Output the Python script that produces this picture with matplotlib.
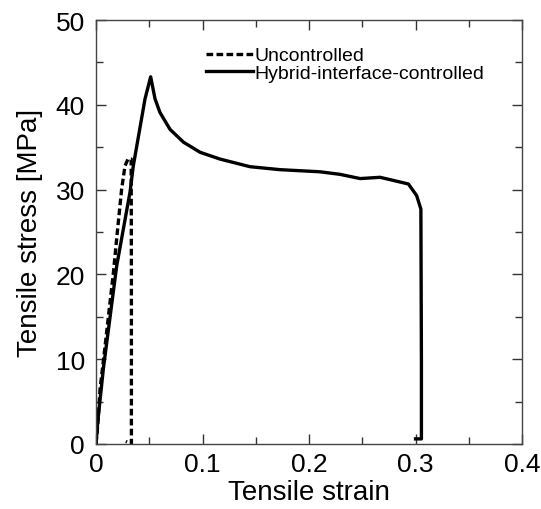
#!/usr/bin/env python3
"""
Tensile stress-strain curves, uncontrolled vs hybrid-interface-controlled
"""

import matplotlib
matplotlib.use("Agg")
import matplotlib.pyplot as plt
from matplotlib.ticker import MultipleLocator

# uncontrolled (dashed)
unc_strain = [0.0, 0.0015, 0.0038, 0.008, 0.0163, 0.020, 0.024, 0.0272, 0.030, 0.033,
              0.0332, 0.0332, 0.028]
unc_stress = [0.0, 2.0, 6.5, 11.0, 20.2, 25.0, 30.0, 32.8, 33.6, 33.6,
              20.0, 0.0, 0.3]

# hybrid-interface-controlled (solid)
hyb_strain = [0.0, 0.0015, 0.007, 0.0194, 0.0319, 0.035, 0.046, 0.0513, 0.0554,
              0.060, 0.0695, 0.082, 0.0977, 0.1164, 0.1446, 0.1728, 0.2103,
              0.229, 0.248, 0.2667, 0.2933, 0.301, 0.305, 0.3055, 0.3055, 0.300]
hyb_stress = [0.0, 2.5, 9.0, 21.0, 29.7, 32.8, 40.7, 43.3, 40.7,
              39.1, 37.1, 35.6, 34.4, 33.6, 32.7, 32.35, 32.1,
              31.8, 31.3, 31.45, 30.66, 29.3, 27.7, 10.0, 0.6, 0.6]

plt.rcParams['font.family'] = ['Liberation Sans', 'DejaVu Sans']

fig = plt.figure(figsize=(5.41, 5.10), dpi=100)
ax = fig.add_axes([0.1775, 0.1275, 0.7875, 0.8313])

ax.plot(unc_strain, unc_stress, color='black', lw=2.4, ls=(0, (2.0, 1.0)),
        label='Uncontrolled')
ax.plot(hyb_strain, hyb_stress, color='black', lw=2.4, label='Hybrid-interface-controlled')

ax.set_xlim(0, 0.4)
ax.set_ylim(0, 50)
ax.xaxis.set_major_locator(MultipleLocator(0.1))
ax.xaxis.set_minor_locator(MultipleLocator(0.05))
ax.yaxis.set_major_locator(MultipleLocator(10))
ax.yaxis.set_minor_locator(MultipleLocator(5))
ax.set_xticks([0, 0.1, 0.2, 0.3, 0.4])
ax.set_xticklabels(['0', '0.1', '0.2', '0.3', '0.4'])

ax.tick_params(which='both', direction='in', top=True, right=True,
               color='#333333', labelsize=19)
ax.tick_params(axis='y', pad=8)
ax.tick_params(axis='x', pad=6)
ax.tick_params(which='major', length=7, width=1)
ax.tick_params(which='minor', length=5, width=1)
for s in ax.spines.values():
    s.set_color('#444444')
    s.set_linewidth(1.0)

ax.set_xlabel('Tensile strain', fontsize=20, labelpad=2)
ax.set_ylabel('Tensile stress [MPa]', fontsize=20, labelpad=9)

ax.legend(loc='upper left', bbox_to_anchor=(0.24, 0.955), frameon=False,
          fontsize=14, handlelength=2.4, handletextpad=0.1, labelspacing=0.0,
          borderaxespad=0)

fig.savefig('out.png', dpi=100)
